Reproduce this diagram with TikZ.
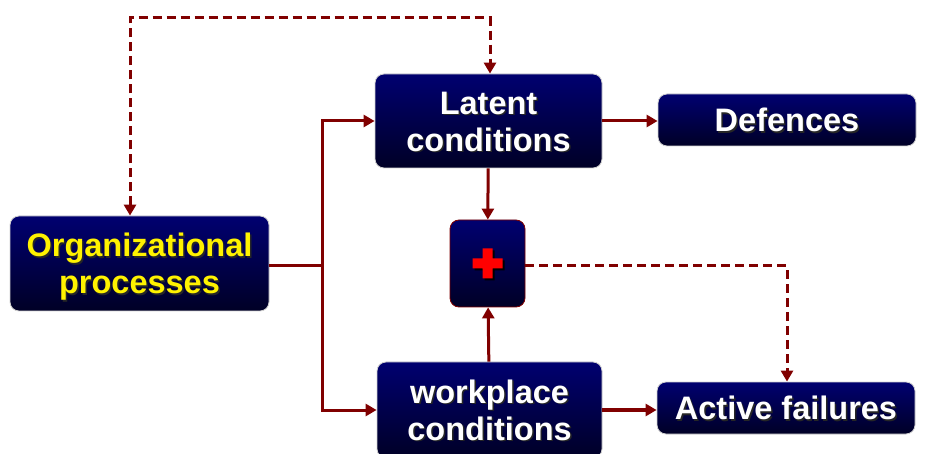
\documentclass[tikz,border=0pt]{standalone}
\usepackage{fontspec}
\setmainfont{Liberation Sans}
\usetikzlibrary{arrows.meta}
\definecolor{linkred}{RGB}{128,0,0}
\definecolor{boxtop}{RGB}{0,0,112}
\definecolor{boxbot}{RGB}{0,0,38}
\newcommand\shadowtext[2]{\raisebox{-5pt}[\height][\depth]{%
  \makebox[0pt][l]{\raisebox{-1.5pt}{\hspace{1.5pt}\color{black!85}\begin{tabular}{@{}c@{}}#2\end{tabular}}}%
  {\color{#1}\begin{tabular}{@{}c@{}}#2\end{tabular}}}}
\tikzset{
  box/.style={rectangle, rounded corners=9pt, draw=gray!35, line width=0.8pt,
    top color=boxtop, bottom color=boxbot, inner sep=0pt,
    font=\bfseries\fontsize{32.5}{37}\selectfont},
  link/.style={draw=linkred, line width=3pt, -{Triangle[length=11pt,width=12pt]}},
  dashlink/.style={link, dash pattern=on 9pt off 5pt}
}
\begin{document}
\begin{tikzpicture}[x=1pt,y=-1pt]
  \useasboundingbox (0,0) rectangle (932,454);
  \clip (0,0) rectangle (932,454);
  \node[box, minimum width=259pt, minimum height=95pt] (org) at (139.5,263.5)
    {\shadowtext{yellow}{Organizational\\processes}};
  \node[box, minimum width=227pt, minimum height=94pt] (latent) at (488.5,121)
    {\shadowtext{white}{Latent\\conditions}};
  \node[box, minimum width=258pt, minimum height=52pt] (defences) at (787,120)
    {\shadowtext{white}{Defences}};
  \node[box, draw=linkred, minimum width=75pt, minimum height=87pt] (plus) at (487.5,263.5) {};
  \node[box, minimum width=225pt, minimum height=96pt] (work) at (489.5,410)
    {\shadowtext{white}{workplace\\conditions}};
  \node[box, minimum width=258pt, minimum height=52pt] (active) at (786,408)
    {\shadowtext{white}{Active failures}};
  % red cross
  \fill[black] ([shift={(-13,-3)}]plus.center) rectangle ([shift={(17,7)}]plus.center)
    ([shift={(-3,-13)}]plus.center) rectangle ([shift={(7,17)}]plus.center);
  \fill[red] ([shift={(-15,-5)}]plus.center) rectangle ([shift={(15,5)}]plus.center)
    ([shift={(-5,-15)}]plus.center) rectangle ([shift={(5,15)}]plus.center);
  % connectors
  \coordinate (split) at (322,266);
  \coordinate (topleft) at (130,18);
  \coordinate (topright) at (490,18);
  \coordinate (bend) at (787,266);
  \begin{scope}
    \draw[link,-] (split -| org.east) -- (split);
    \draw[link] (split) |- (latent);
    \draw[link] (split) |- (work);
    \draw[link] (latent.east) -- (defences.west |- latent.east);
    \draw[link] (latent) -- (plus);
    \draw[link] (work) -- (plus);
    \draw[link, line width=4pt] (work.east) -- (active.west |- work.east);
    \draw[dashlink, {Triangle[length=11pt,width=12pt]}-{Triangle[length=11pt,width=12pt]}]
      (org.north -| topleft) -- (topleft) -- (topright) -- (latent.north -| topright);
    \draw[dashlink] (plus.east |- bend) -- (bend) -- (active.north -| bend);
  \end{scope}
\end{tikzpicture}
\end{document}
